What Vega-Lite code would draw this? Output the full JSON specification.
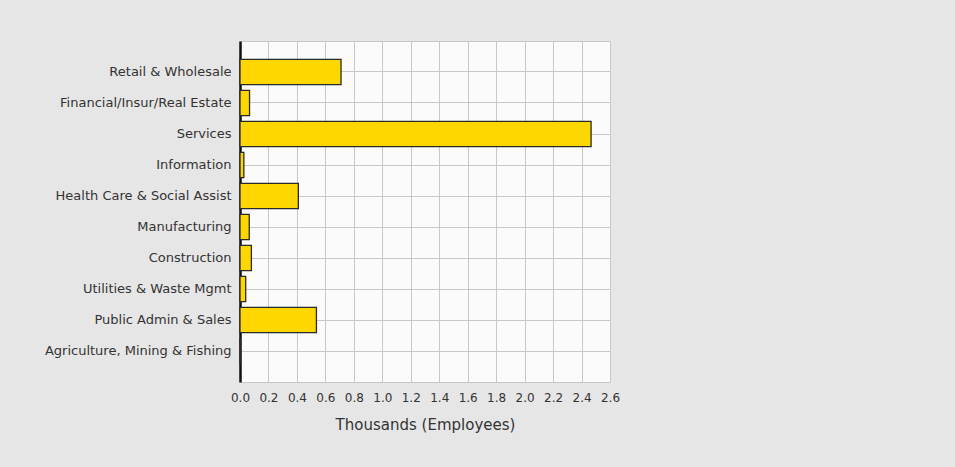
{
  "$schema": "https://vega.github.io/schema/vega-lite/v6.json",
  "width": 370,
  "height": 341,
  "autosize": {"type": "none"},
  "padding": {"left": 240, "top": 41, "right": 345, "bottom": 85},
  "background": "#e6e6e6",
  "data": {
    "values": [
      {"sector": "Retail & Wholesale", "value": 0.71},
      {"sector": "Financial/Insur/Real Estate", "value": 0.067},
      {"sector": "Services", "value": 2.467},
      {"sector": "Information", "value": 0.027},
      {"sector": "Health Care & Social Assist", "value": 0.41},
      {"sector": "Manufacturing", "value": 0.065},
      {"sector": "Construction", "value": 0.08},
      {"sector": "Utilities & Waste Mgmt", "value": 0.04},
      {"sector": "Public Admin & Sales", "value": 0.537},
      {"sector": "Agriculture, Mining & Fishing", "value": 0.004}
    ]
  },
  "mark": {"type": "bar", "fill": "#ffd700", "stroke": "#2a2a2a", "strokeWidth": 1.3},
  "encoding": {
    "y": {
      "field": "sector",
      "type": "nominal",
      "sort": null,
      "scale": {"paddingInner": 0.19, "paddingOuter": 0.595},
      "axis": {
        "title": null,
        "domain": true,
        "domainColor": "#111111",
        "domainWidth": 2.5,
        "ticks": false,
        "grid": true,
        "gridColor": "#c8c8c8",
        "labelFont": "DejaVu Sans",
        "labelFontSize": 13,
        "labelColor": "#333333",
        "labelPadding": 9,
        "labelLimit": 300
      }
    },
    "x": {
      "field": "value",
      "type": "quantitative",
      "scale": {"domain": [0, 2.6], "nice": false, "zero": true},
      "axis": {
        "title": "Thousands (Employees)",
        "values": [0, 0.2, 0.4, 0.6, 0.8, 1.0, 1.2, 1.4, 1.6, 1.8, 2.0, 2.2, 2.4, 2.6],
        "format": ".1f",
        "domain": false,
        "ticks": false,
        "grid": true,
        "gridColor": "#c8c8c8",
        "labelFont": "DejaVu Sans",
        "labelFontSize": 12,
        "labelColor": "#333333",
        "labelPadding": 10,
        "labelFlush": false,
        "titleFont": "DejaVu Sans",
        "titleFontSize": 15,
        "titleFontWeight": "normal",
        "titleColor": "#333333",
        "titlePadding": 14
      }
    }
  },
  "config": {
    "view": {"fill": "#fbfbfb", "stroke": "#c8c8c8"}
  }
}
